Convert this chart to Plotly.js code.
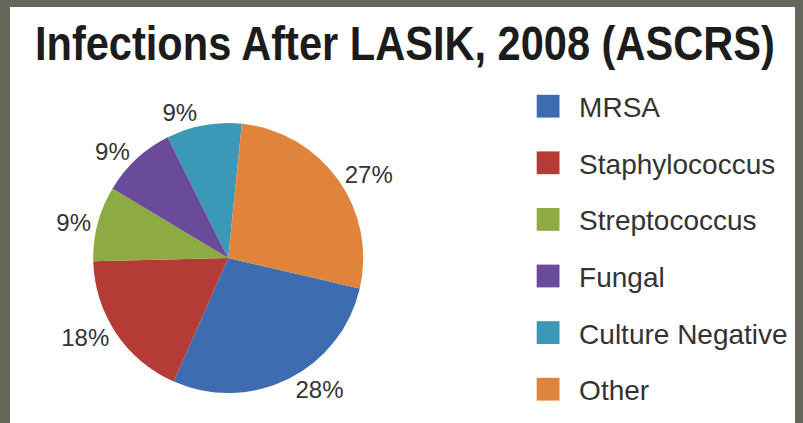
<!DOCTYPE html>
<html>
<head>
<meta charset="utf-8">
<script src="https://cdn.plot.ly/plotly-3.0.1.min.js"></script>
<style>
  html, body { margin: 0; padding: 0; background: #66665a; width: 803px; height: 423px; overflow: hidden; }
  #chart { position: absolute; left: 10px; top: 7px; width: 785px; height: 416px; }
</style>
</head>
<body>
<div id="chart"></div>
<script>
const categories = ["MRSA", "Staphylococcus", "Streptococcus", "Fungal", "Culture Negative", "Other"];
const values = [28, 18, 9, 9, 9, 27];
const colors = ["#3d6db0", "#b53b37", "#8dab42", "#6a4b9b", "#3b98b7", "#e0843c"];
const titleText = "Infections After LASIK, 2008 (ASCRS)";

const data = [{
  type: "pie",
  labels: categories,
  values: values,
  sort: false,
  direction: "clockwise",
  rotation: 103,
  marker: { colors: colors, line: { width: 0 } },
  textinfo: "percent",
  textposition: "outside",
  outsidetextfont: { family: "Liberation Sans, Arial, sans-serif", size: 24, color: "#333333" },
  domain: { x: [0.106, 0.450], y: [0.072, 0.721] },
  hoverinfo: "none"
}];

const layout = {
  width: 785,
  height: 416,
  margin: { l: 0, r: 0, t: 0, b: 0 },
  paper_bgcolor: "#ffffff",
  showlegend: true,
  title: {
    text: "<b>" + titleText + "</b>",
    font: { family: "Liberation Sans, Arial, sans-serif", size: 48, color: "#1c1c1c" },
    x: 0.503, xanchor: "center",
    y: 0.912, yanchor: "middle", yref: "container"
  },
  legend: {
    x: 0.66, xanchor: "left",
    y: 0.80, yanchor: "top",
    font: { family: "Liberation Sans, Arial, sans-serif", size: 28, color: "#333333" },
    bgcolor: "rgba(0,0,0,0)"
  }
};

Plotly.newPlot("chart", data, layout, { staticPlot: true }).then(function () {
  // condense the title to the narrow look of the original
  const t = document.querySelector("#chart .gtitle");
  if (t) {
    const bb = t.getBBox();
    const cx = bb.x + bb.width / 2;
    const sx = 740 / bb.width;
    t.setAttribute("transform", "translate(" + cx + ",0) scale(" + sx + ",1) translate(" + (-cx) + ",0)");
  }
  // open up legend spacing and enlarge the swatches
  document.querySelectorAll("#chart .legend [clip-path]").forEach(function (el) {
    el.removeAttribute("clip-path");
  });
  const items = document.querySelectorAll("#chart .legend .traces");
  items.forEach(function (el, i) {
    const tr = el.getAttribute("transform") || "";
    const m = /translate\(([-\d.]+),\s*([-\d.]+)\)/.exec(tr);
    const x = m ? parseFloat(m[1]) : 0;
    el.setAttribute("transform", "translate(" + x + "," + (16 + i * 56.6) + ")");
    el.querySelectorAll(".legendpoints path").forEach(function (p) {
      p.setAttribute("transform", "translate(20,0) scale(1.9)");
    });
    const txt = el.querySelector(".legendtext");
    if (txt) txt.setAttribute("x", 51);
  });
});
</script>
</body>
</html>
